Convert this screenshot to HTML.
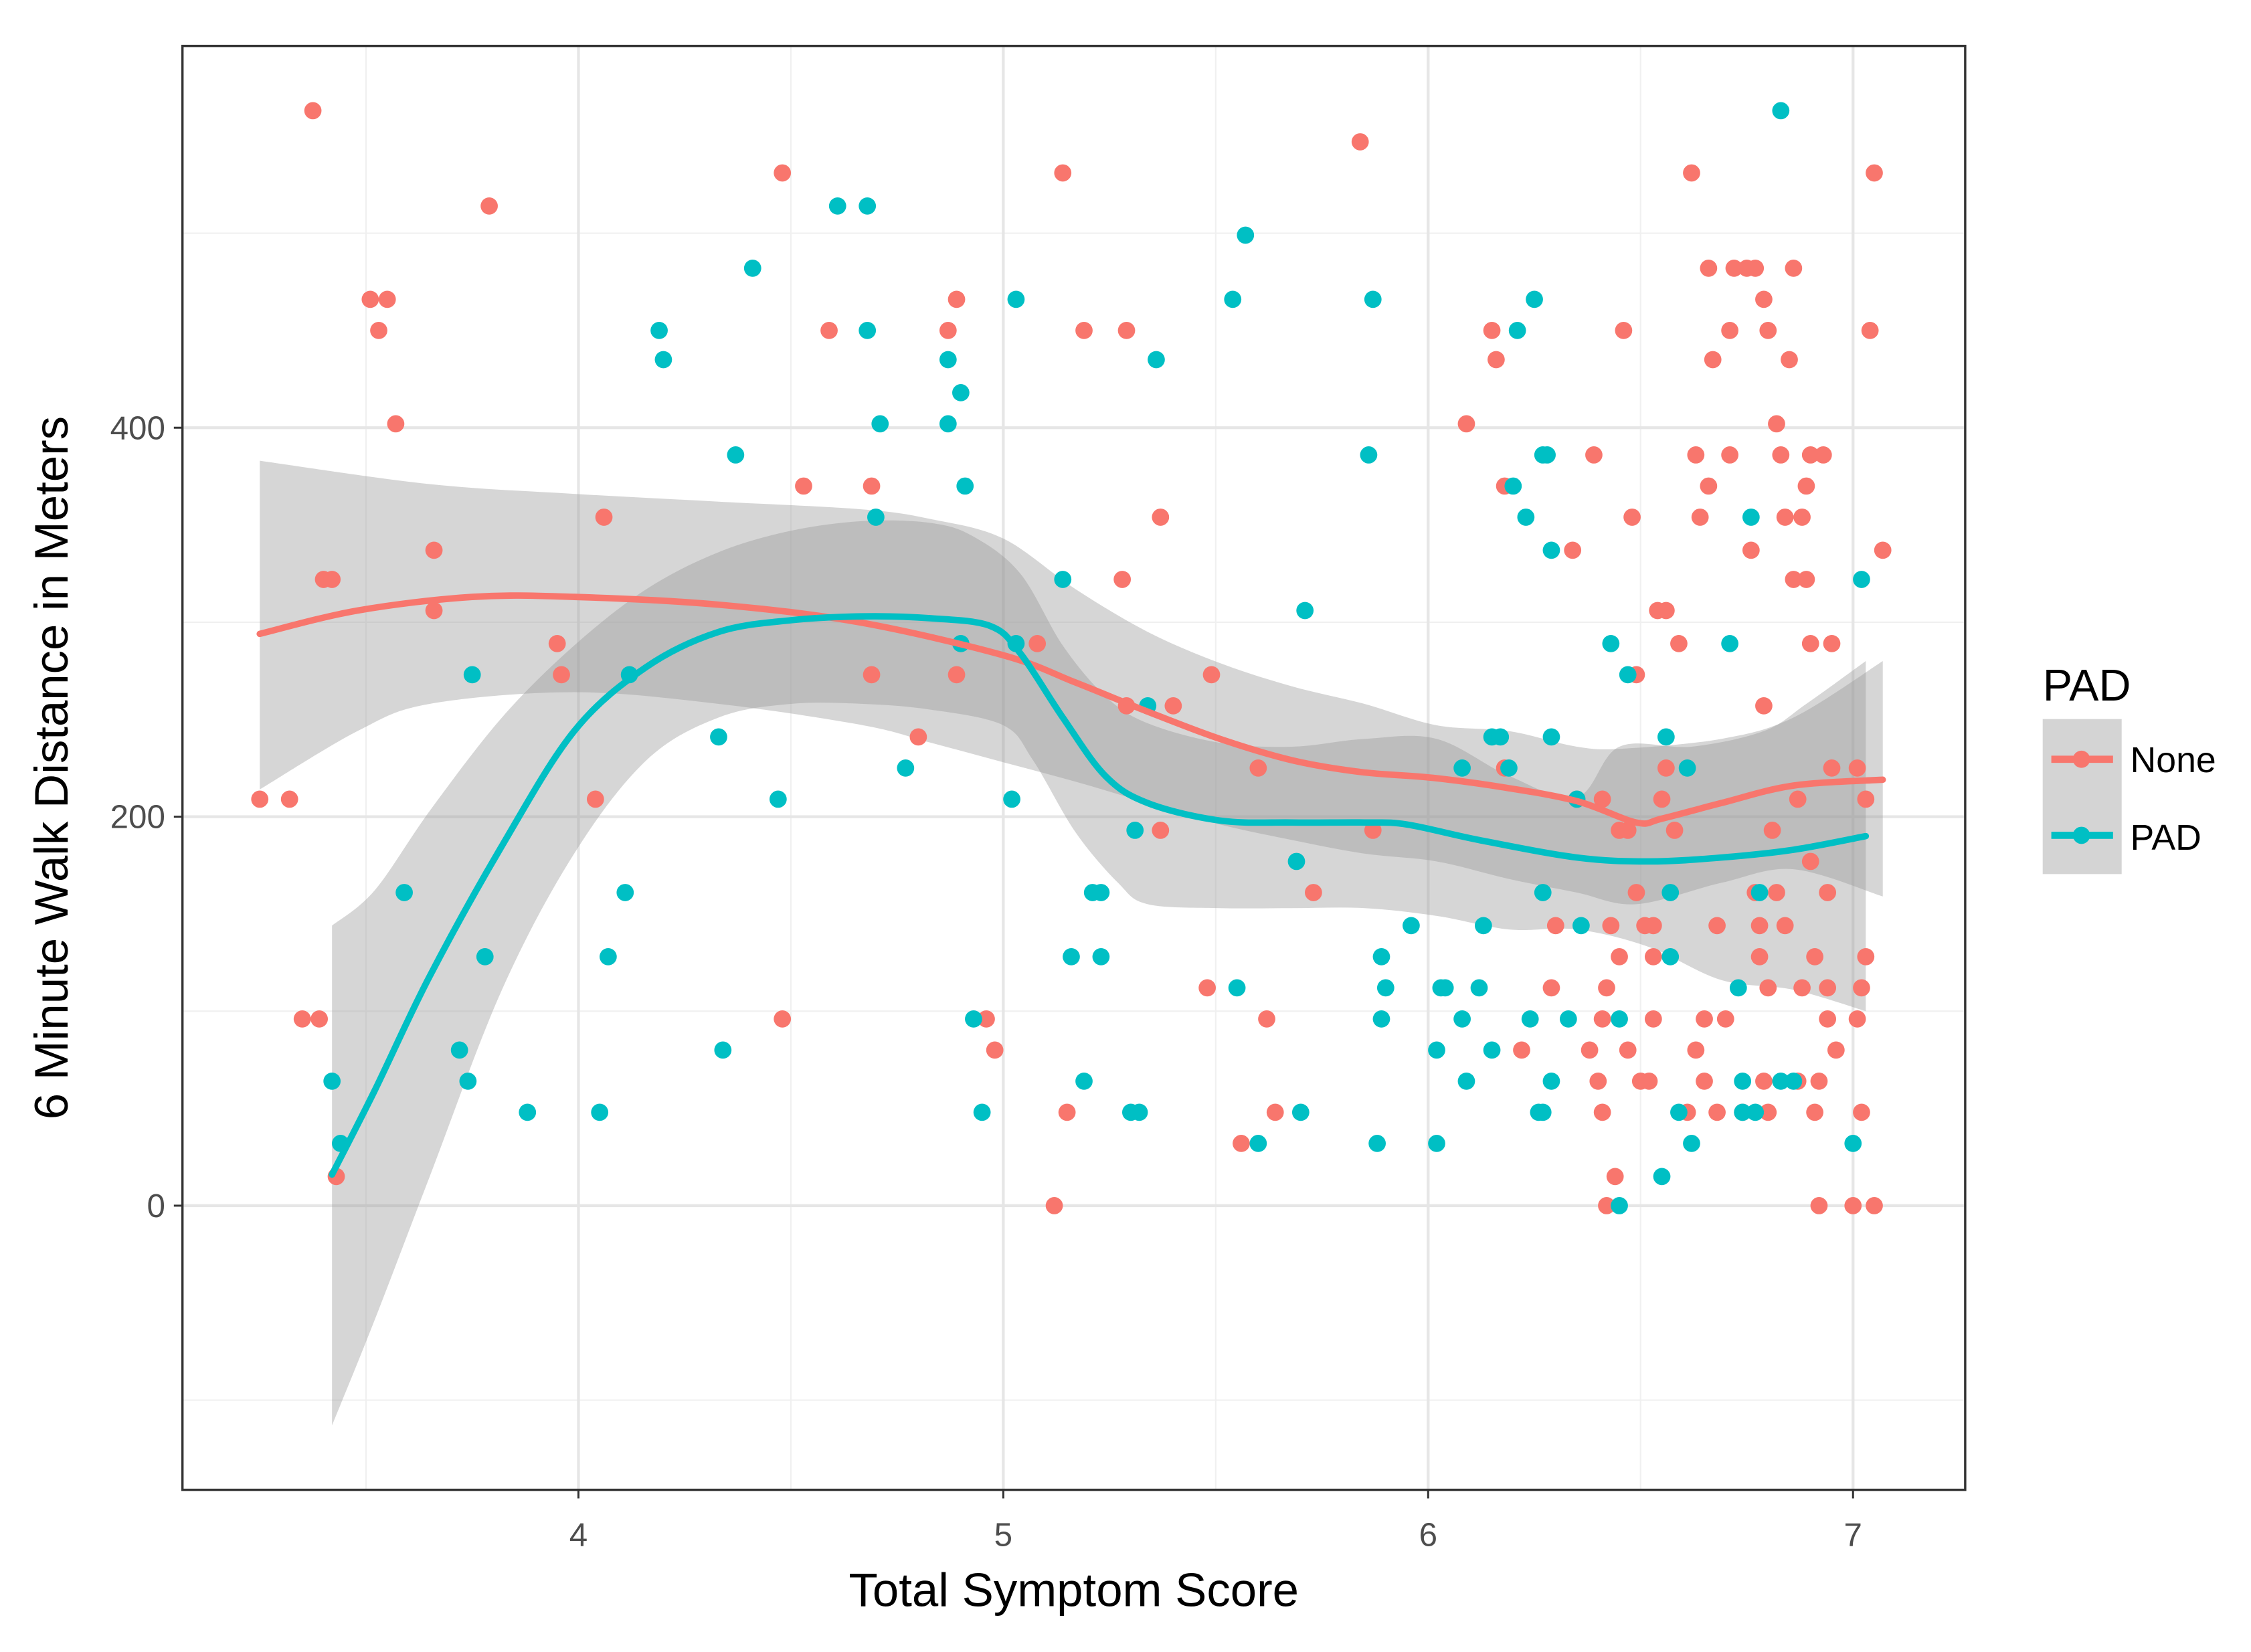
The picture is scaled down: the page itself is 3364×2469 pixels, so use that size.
<!DOCTYPE html>
<html><head><meta charset="utf-8"><style>html,body{margin:0;padding:0;background:#fff}svg{display:block}text{font-family:"Liberation Sans",sans-serif}</style></head>
<body>
<svg id="chart" width="3364" height="2469" viewBox="0 0 1568 1151" xmlns="http://www.w3.org/2000/svg">
<rect x="0" y="0" width="1568" height="1151" fill="#fff"/>
<g id="grid"></g>
<g id="bands"></g>
<g id="pts"></g>
<g id="lines"></g>
<rect x="127" y="32" width="1242" height="1006" fill="none" stroke="#333" stroke-width="1.6"/>
<g id="axes"></g>
<text x="748" y="1119" font-size="33" text-anchor="middle" fill="#000">Total Symptom Score</text>
<text transform="translate(47,535) rotate(-90)" font-size="33" text-anchor="middle" fill="#000">6 Minute Walk Distance in Meters</text>
<g>
<text x="1423" y="488" font-size="31" fill="#000">PAD</text>
<rect x="1423" y="501" width="55" height="108" fill="#d4d4d4"/>
<g>
<line x1="1429" y1="529" x2="1472" y2="529" stroke="#F8766D" stroke-width="5"/>
<circle cx="1450" cy="529" r="6" fill="#F8766D"/>
<text x="1484" y="538" font-size="25" fill="#000">None</text></g>
<g>
<line x1="1429" y1="582" x2="1472" y2="582" stroke="#00BFC4" stroke-width="5"/>
<circle cx="1450" cy="582" r="6" fill="#00BFC4"/>
<text x="1484" y="592" font-size="25" fill="#000">PAD</text></g>
</g>
</svg>
<script>
const xTicks=[4,5,6,7];
const xMinor=[3.5,4.5,5.5,6.5];
const yTicks=[0,200,400];
const yMinor=[-100,100,300,500];
const noneX=[3.25,3.32,3.375,3.35,3.39,3.40,3.42,3.43,3.51,3.55,3.53,3.57,3.66,3.66,3.79,3.95,3.96,4.04,4.06,4.48,4.48,4.53,4.59,4.69,4.69,4.80,4.87,4.89,4.89,4.96,4.98,5.08,5.12,5.14,5.15,5.19,5.28,5.29,5.29,5.37,5.37,5.40,5.49,5.48,5.56,5.60,5.62,5.64,5.73,5.84,5.87,6.09,6.15,6.16,6.18,6.18,6.22,6.29,6.30,6.34,6.35,6.39,6.38,6.40,6.41,6.41,6.41,6.42,6.42,6.44,6.43,6.45,6.46,6.45,6.47,6.47,6.48,6.49,6.49,6.50,6.51,6.52,6.53,6.53,6.53,6.54,6.56,6.55,6.56,6.58,6.59,6.61,6.62,6.63,6.63,6.64,6.65,6.65,6.66,6.66,6.67,6.68,6.68,6.70,6.71,6.71,6.72,6.74,6.75,6.76,6.77,6.77,6.78,6.79,6.79,6.80,6.78,6.79,6.80,6.80,6.81,6.82,6.83,6.82,6.84,6.84,6.85,6.86,6.86,6.87,6.87,6.88,6.88,6.89,6.89,6.90,6.90,6.90,6.91,6.91,6.92,6.92,6.93,6.94,6.94,6.94,6.95,6.95,6.96,7.00,7.01,7.01,7.02,7.02,7.03,7.03,7.04,7.05,7.05,7.07];
const noneY=[209,209,563,96,96,322,322,15,466,466,450,402,337,306,514,289,273,209,354,531,96,370,450,370,273,241,450,273,466,96,80,289,0,531,48,450,322,450,257,354,193,257,273,112,32,225,96,48,161,547,193,402,450,435,370,225,80,112,144,337,209,386,80,64,48,209,96,112,0,15,144,193,450,128,193,80,354,273,161,64,144,64,128,96,144,306,306,209,225,193,289,48,531,80,386,354,96,64,370,482,435,144,48,96,450,386,482,48,482,337,482,161,128,466,257,450,144,64,112,48,193,402,386,161,144,354,435,482,322,209,64,112,354,370,322,177,289,386,128,48,0,64,386,96,161,112,225,289,80,0,225,96,112,48,209,128,450,531,0,337];
const padX=[3.42,3.44,3.59,3.72,3.74,3.75,3.78,3.88,4.05,4.07,4.11,4.12,4.19,4.20,4.33,4.34,4.37,4.41,4.47,4.61,4.68,4.68,4.71,4.70,4.77,4.87,4.87,4.90,4.91,4.90,4.93,4.95,5.02,5.03,5.03,5.14,5.16,5.19,5.21,5.23,5.23,5.30,5.31,5.32,5.34,5.36,5.54,5.55,5.57,5.60,5.69,5.71,5.70,5.86,5.87,5.88,5.89,5.89,5.90,5.96,6.02,6.02,6.03,6.04,6.08,6.08,6.09,6.12,6.13,6.15,6.15,6.17,6.19,6.20,6.21,6.23,6.24,6.25,6.26,6.27,6.27,6.27,6.28,6.29,6.29,6.29,6.33,6.35,6.36,6.43,6.45,6.45,6.47,6.55,6.56,6.57,6.57,6.59,6.61,6.62,6.71,6.73,6.74,6.74,6.76,6.77,6.78,6.83,6.83,6.86,7.00,7.02];
const padY=[64,32,161,80,64,273,128,48,48,128,161,273,450,435,241,80,386,482,209,514,514,450,402,354,225,435,402,418,370,289,96,48,209,466,289,322,128,64,161,161,128,48,193,48,257,435,466,112,499,32,177,306,48,386,466,32,96,128,112,144,32,80,112,112,225,96,64,112,144,80,241,241,225,370,450,354,96,466,48,161,386,48,386,337,64,241,96,209,144,289,96,0,273,15,241,161,128,48,225,32,289,112,48,64,354,48,161,563,64,64,32,322];
const noneFitX=[3.25,3.48,3.75,3.99,4.33,4.66,5.0,5.17,5.34,5.51,5.68,5.84,6.01,6.18,6.35,6.49,6.55,6.69,6.86,7.07];
const noneFitY=[294,306,313,313,309,300,283,269,254,240,229,223,220,215,208,197,199,207,216,219];
const noneUpX=[3.25,3.65,3.99,4.33,4.67,4.83,5.0,5.17,5.34,5.51,5.68,5.85,6.02,6.19,6.35,6.46,6.69,6.86,7.07];
const noneUpY=[383,371,366,362,358,353,343,317,295,279,267,258,247,244,236,235,240,251,280];
const noneLoX=[3.25,3.48,3.65,3.99,4.33,4.67,4.83,5.0,5.17,5.34,5.51,5.68,5.85,6.02,6.19,6.35,6.49,6.69,6.86,7.07];
const noneLoY=[214,244,258,264,258,247,238,228,218,207,196,188,181,177,168,161,155,166,173,159];
const padFitX=[3.42,3.52,3.65,3.82,3.99,4.16,4.33,4.50,4.67,4.83,4.97,5.04,5.14,5.24,5.34,5.51,5.68,5.85,5.95,6.12,6.35,6.52,6.69,6.86,7.03];
const padFitY=[16,59,118,185,244,277,295,301,303,302,298,284,251,221,207,198,197,197,196,188,179,177,179,183,190];
const padUpX=[3.42,3.52,3.65,3.82,3.99,4.16,4.33,4.50,4.67,4.83,4.93,5.04,5.14,5.24,5.34,5.51,5.68,5.85,6.02,6.19,6.35,6.45,6.62,6.79,6.89,7.03];
const padUpY=[144,162,203,251,288,317,336,347,352,351,344,325,288,262,248,238,236,240,240,221,210,236,236,244,258,280];
const padLoX=[3.42,3.52,3.65,3.82,3.99,4.16,4.33,4.50,4.67,4.83,5.0,5.07,5.17,5.27,5.34,5.51,5.68,5.85,6.02,6.19,6.35,6.52,6.69,6.86,7.03];
const padLoY=[-113,-59,15,111,181,229,251,258,258,255,247,229,192,166,155,153,153,153,149,142,142,133,116,111,100];

const X0=127,X1=1369,Y0=32,Y1=1038,XMIN=3.068,XMAX=7.264,YMIN=-146.1,YMAX=596.3;
const sx=v=>X0+(v-XMIN)/(XMAX-XMIN)*(X1-X0);
const sy=v=>Y1-(v-YMIN)/(YMAX-YMIN)*(Y1-Y0);
const NS='http://www.w3.org/2000/svg';
function mk(tag,parent,attrs){const e=document.createElementNS(NS,tag);for(const k in attrs)e.setAttribute(k,attrs[k]);document.getElementById(parent).appendChild(e);return e;}
function smooth(P,start){let d=start?'M'+P[0][0]+','+P[0][1]:'L'+P[0][0]+','+P[0][1];
for(let i=0;i<P.length-1;i++){const p0=P[Math.max(0,i-1)],p1=P[i],p2=P[i+1],p3=P[Math.min(P.length-1,i+2)];
const c1x=p1[0]+(p2[0]-p0[0])/6,c1y=p1[1]+(p2[1]-p0[1])/6,c2x=p2[0]-(p3[0]-p1[0])/6,c2y=p2[1]-(p3[1]-p1[1])/6;
d+='C'+c1x+','+c1y+' '+c2x+','+c2y+' '+p2[0]+','+p2[1];}return d;}
xMinor.forEach(v=>{const e=mk('line','grid',{x1:sx(v),x2:sx(v),y1:Y0,y2:Y1,stroke:'#f0f0f0','stroke-width':1});

});
yMinor.forEach(v=>{const e=mk('line','grid',{x1:X0,x2:X1,y1:sy(v),y2:sy(v),stroke:'#f0f0f0','stroke-width':1});

});
xTicks.forEach(v=>{const e=mk('line','grid',{x1:sx(v),x2:sx(v),y1:Y0,y2:Y1,stroke:'#e6e6e6','stroke-width':2});


const t=mk('line','axes',{x1:sx(v),x2:sx(v),y1:Y1,y2:Y1+6,stroke:'#333','stroke-width':1.4});


const l=mk('text','axes',{x:sx(v),y:Y1+39,'font-size':23,'text-anchor':'middle',fill:'#4d4d4d'});l.textContent=v;

});
yTicks.forEach(v=>{const e=mk('line','grid',{x1:X0,x2:X1,y1:sy(v),y2:sy(v),stroke:'#e6e6e6','stroke-width':2});


const t=mk('line','axes',{x1:X0-6,x2:X0,y1:sy(v),y2:sy(v),stroke:'#333','stroke-width':1.4});


const l=mk('text','axes',{x:X0-12,y:sy(v)+8,'font-size':23,'text-anchor':'end',fill:'#4d4d4d'});l.textContent=v;

});
function band(ux,uy,lx,ly,name){const U=ux.map((v,i)=>[sx(v),sy(uy[i])]);const L=lx.map((v,i)=>[sx(v),sy(ly[i])]).reverse();
const d=smooth(U,true)+smooth(L,false)+'Z';
const e=mk('path','bands',{d:d,fill:'#999',opacity:0.4});

}
band(noneUpX,noneUpY,noneLoX,noneLoY,'none-confidence-band');
band(padUpX,padUpY,padLoX,padLoY,'pad-confidence-band');
noneX.forEach((v,i)=>{const c=mk('circle','pts',{cx:sx(v),cy:sy(noneY[i]),r:6,fill:'#F8766D'});

});
padX.forEach((v,i)=>{const c=mk('circle','pts',{cx:sx(v),cy:sy(padY[i]),r:6,fill:'#00BFC4'});

});
function line(xs,ys,col,name){const d=smooth(xs.map((v,i)=>[sx(v),sy(ys[i])]),true);
const e=mk('path','lines',{d:d,fill:'none',stroke:col,'stroke-width':4.5,'stroke-linejoin':'round','stroke-linecap':'round'});

}
line(noneFitX,noneFitY,'#F8766D','none-smooth-line');
line(padFitX,padFitY,'#00BFC4','pad-smooth-line');
</script>
</body></html>
